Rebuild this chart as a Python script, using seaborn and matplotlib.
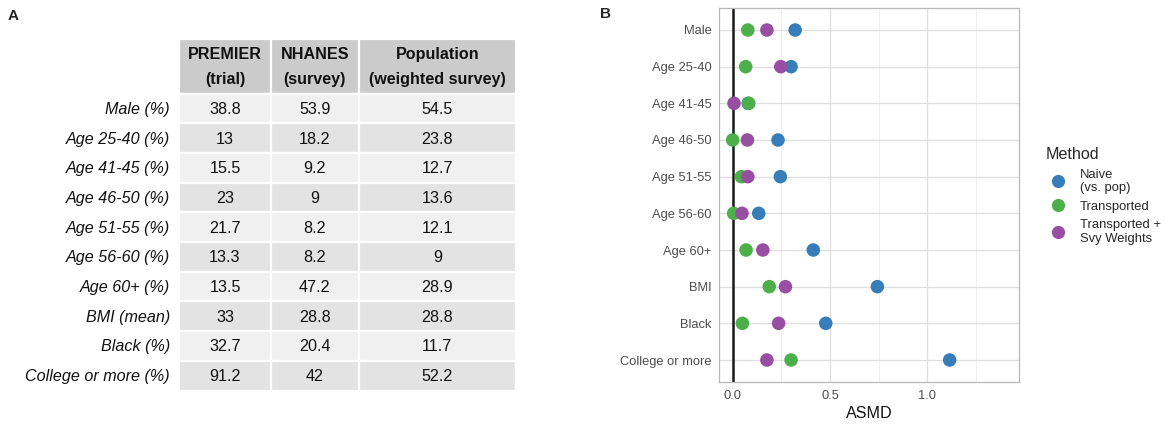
import matplotlib
matplotlib.use("Agg")
import matplotlib.pyplot as plt
from matplotlib.patches import Rectangle
from matplotlib.ticker import MultipleLocator
import seaborn as sns
import pandas as pd

# ---------------- data ----------------
table_rows = ["Male (%)", "Age 25-40 (%)", "Age 41-45 (%)", "Age 46-50 (%)", "Age 51-55 (%)",
              "Age 56-60 (%)", "Age 60+ (%)", "BMI (mean)", "Black (%)", "College or more (%)"]
table_headers = ["PREMIER\n(trial)", "NHANES\n(survey)", "Population\n(weighted survey)"]
premier = [38.8, 13, 15.5, 23, 21.7, 13.3, 13.5, 33, 32.7, 91.2]
nhanes = [53.9, 18.2, 9.2, 9, 8.2, 8.2, 47.2, 28.8, 20.4, 42]
population = [54.5, 23.8, 12.7, 13.6, 12.1, 9, 28.9, 28.8, 11.7, 52.2]

categories = ["Male", "Age 25-40", "Age 41-45", "Age 46-50", "Age 51-55",
              "Age 56-60", "Age 60+", "BMI", "Black", "College or more"]
methods = ["Naive\n(vs. pop)", "Transported", "Transported +\nSvy Weights"]
naive = [0.321, 0.300, 0.080, 0.233, 0.245, 0.134, 0.414, 0.743, 0.478, 1.114]
transported = [0.078, 0.067, 0.083, 0.000, 0.045, 0.005, 0.069, 0.188, 0.050, 0.300]
transported_svy = [0.176, 0.247, 0.007, 0.076, 0.078, 0.048, 0.155, 0.271, 0.236, 0.176]
method_colors = ["#377EB8", "#4DAF4A", "#984EA3"]

# ---------------- style ----------------
sns.set_style("white")
plt.rcParams['font.family'] = ['Liberation Sans', 'DejaVu Sans']

W, H = 1170, 426
fig = plt.figure(figsize=(W / 100, H / 100), dpi=100)

# ---------------- panel A: table ----------------
axA = fig.add_axes([0, 0, 1, 1])
axA.set_xlim(0, W)
axA.set_ylim(H, 0)
axA.axis("off")

col_edges = [(179, 271), (271, 358.5), (358.5, 516)]
head_top, head_bot = 38.5, 93.5
row_h = (390.5 - 93.5) / len(table_rows)
txt_fs = 11.6
for (x0, x1), head in zip(col_edges, table_headers):
    axA.add_patch(Rectangle((x0, head_top), x1 - x0, head_bot - head_top,
                            facecolor="#CBCBCB", edgecolor="white", lw=1.6))
    axA.text((x0 + x1) / 2, (head_top + head_bot) / 2 + 1, head, ha="center", va="center",
             fontsize=txt_fs, fontweight="bold", color="#111111", linespacing=1.85)
for i, lab in enumerate(table_rows):
    y0 = head_bot + i * row_h
    fc = "#F0F0F0" if i % 2 == 0 else "#E3E3E3"
    vals = [premier[i], nhanes[i], population[i]]
    for (x0, x1), v in zip(col_edges, vals):
        axA.add_patch(Rectangle((x0, y0), x1 - x0, row_h, facecolor=fc,
                                edgecolor="white", lw=1.6))
        axA.text((x0 + x1) / 2, y0 + row_h / 2 + 1, f"{v:g}", ha="center", va="center",
                 fontsize=txt_fs, color="#111111")
    axA.text(170, y0 + row_h / 2 + 1, lab, ha="right", va="center", fontsize=txt_fs,
             style="italic", color="#111111")

fig.text(13 / W, 1 - 16 / H, "A", fontsize=11, fontweight="bold", ha="center", va="center")
fig.text(605 / W, 1 - 14 / H, "B", fontsize=11, fontweight="bold", ha="center", va="center")

# ---------------- panel B: dot plot ----------------
df = pd.DataFrame({
    "Variable": categories * 3,
    "ASMD": naive + transported + transported_svy,
    "Method": [methods[0]] * len(categories) + [methods[1]] * len(categories)
              + [methods[2]] * len(categories),
})

axB = fig.add_axes([719 / W, 1 - 382 / H, 300 / W, 374 / H])
sns.scatterplot(data=df, x="ASMD", y="Variable", hue="Method", hue_order=methods,
                palette=method_colors, s=95, linewidth=0, ax=axB, zorder=3)
axB.axvline(0, color="#1A1A1A", lw=1.8, zorder=2)
axB.set_xlim(-0.07, 1.47)
axB.set_ylim(len(categories) - 0.4, -0.6)
axB.xaxis.set_major_locator(MultipleLocator(0.5))
axB.xaxis.set_minor_locator(MultipleLocator(0.25))
axB.set_xticks([0.0, 0.5, 1.0])
axB.set_xticklabels(["0.0", "0.5", "1.0"])
axB.grid(True, which="major", color="#DEDEDE", lw=0.9, zorder=0)
axB.grid(True, which="minor", axis="x", color="#EBEBEB", lw=0.6, zorder=0)
axB.set_axisbelow(True)
for sp in axB.spines.values():
    sp.set_color("#B8B8B8")
    sp.set_linewidth(0.9)
axB.tick_params(axis="both", which="major", colors="#B3B3B3", labelcolor="#4D4D4D",
                labelsize=9.3, length=3, width=0.8, pad=2.5)
axB.tick_params(axis="x", which="minor", length=0)
axB.set_ylabel("")
axB.set_xlabel("ASMD", fontsize=11.6, color="#111111", labelpad=3)

handles, labels = axB.get_legend_handles_labels()
axB.get_legend().remove()
for h in handles:
    h.set_markersize(9.5)
leg = fig.legend(handles, labels, title="Method", loc="upper left",
                 bbox_to_anchor=(1040 / W, 1 - 142 / H), frameon=False,
                 fontsize=9.4, title_fontsize=11.6, labelspacing=0.5,
                 handletextpad=0.65, handlelength=2.0, borderaxespad=0)
leg._legend_box.align = "left"
for t in leg.get_texts():
    t.set_linespacing(1.15)

fig.savefig("out.png", dpi=100)
